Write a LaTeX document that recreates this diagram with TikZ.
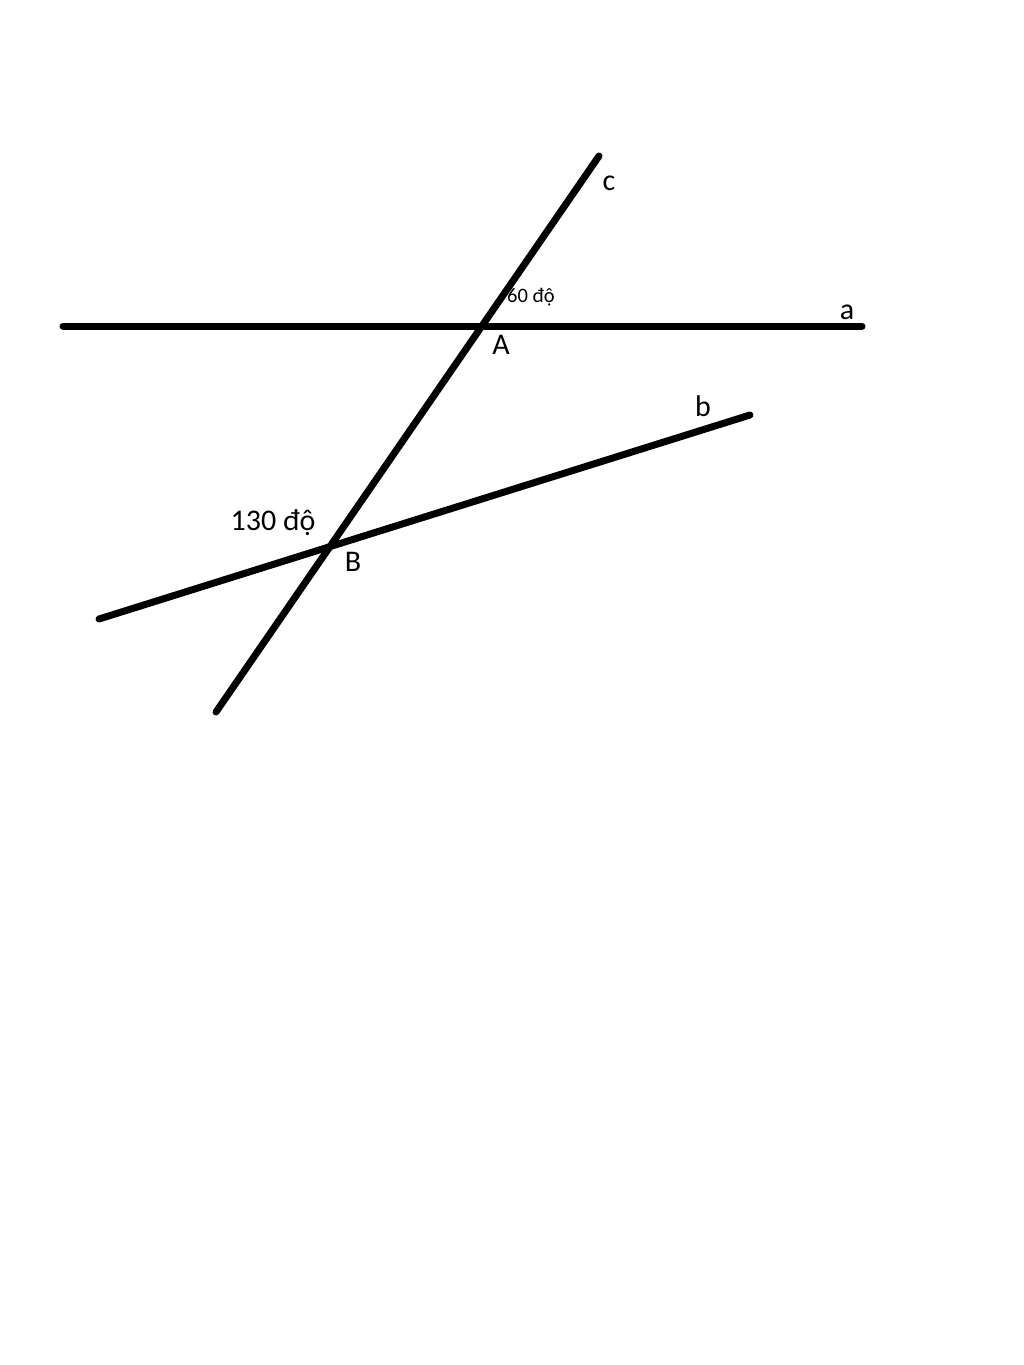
\documentclass[tikz,border=0pt]{standalone}
\usepackage{fontspec}
\setmainfont{Carlito}
\begin{document}
\begin{tikzpicture}[x=1pt,y=-1pt,
  ln/.style={line width=7pt,line cap=round},
  lbl/.style={font=\fontsize{30}{32}\selectfont,inner sep=0pt},
  sm/.style={font=\fontsize{20.5}{22}\selectfont,inner sep=0pt}]
\useasboundingbox (0,0) rectangle (1024,1365);
\coordinate (a1) at (63,326);
\coordinate (a2) at (862,326);
\coordinate (c1) at (599,156);
\coordinate (c2) at (216,712);
\coordinate (b1) at (99,619);
\coordinate (b2) at (750,415);
\draw[ln] (a1) -- (a2);
\draw[ln] (c1) -- (c2);
\draw[ln] (b1) -- (b2);
\node[lbl] (lc) at (609,183) {c};
\node[sm] (l60) at (531,297) {60 độ};
\node[lbl] (la) at (847,312) {a};
\node[lbl] (lA) at (501,345) {A};
\node[lbl] (lb) at (703,406) {b};
\node[lbl] (l130) at (273,523) {130 độ};
\node[lbl] (lB) at (353,562) {B};
\end{tikzpicture}
\end{document}
